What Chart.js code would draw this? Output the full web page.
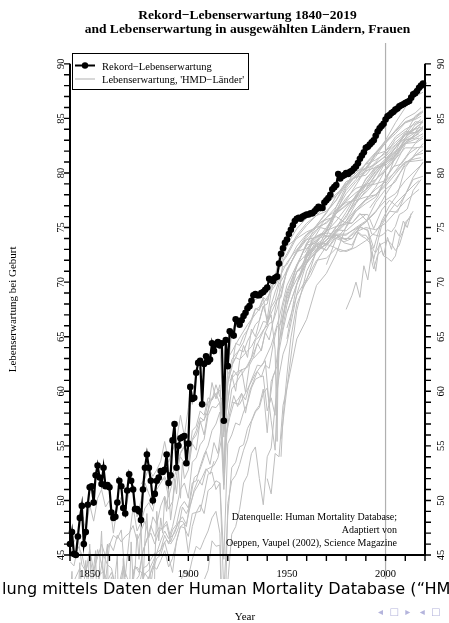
<!DOCTYPE html>
<html>
<head>
<meta charset="utf-8">
<script src="https://cdn.jsdelivr.net/npm/chart.js@4.4.1/dist/chart.umd.min.js"></script>
<style>
  html, body { margin: 0; padding: 0; background: #fff; }
  canvas { display: block; }
</style>
</head>
<body>
<canvas id="lifeChart" width="449" height="623"></canvas>
<script>
// Rekord-Lebenserwartung (Frauen), ein Wert pro Jahr
const recordYears = [
  1840, 1841, 1842, 1843, 1844, 1845, 1846, 1847, 1848, 1849,
  1850, 1851, 1852, 1853, 1854, 1855, 1856, 1857, 1858, 1859,
  1860, 1861, 1862, 1863, 1864, 1865, 1866, 1867, 1868, 1869,
  1870, 1871, 1872, 1873, 1874, 1875, 1876, 1877, 1878, 1879,
  1880, 1881, 1882, 1883, 1884, 1885, 1886, 1887, 1888, 1889,
  1890, 1891, 1892, 1893, 1894, 1895, 1896, 1897, 1898, 1899,
  1900, 1901, 1902, 1903, 1904, 1905, 1906, 1907, 1908, 1909,
  1910, 1911, 1912, 1913, 1914, 1915, 1916, 1917, 1918, 1919,
  1920, 1921, 1922, 1923, 1924, 1925, 1926, 1927, 1928, 1929,
  1930, 1931, 1932, 1933, 1934, 1935, 1936, 1937, 1938, 1939,
  1940, 1941, 1942, 1943, 1944, 1945, 1946, 1947, 1948, 1949,
  1950, 1951, 1952, 1953, 1954, 1955, 1956, 1957, 1958, 1959,
  1960, 1961, 1962, 1963, 1964, 1965, 1966, 1967, 1968, 1969,
  1970, 1971, 1972, 1973, 1974, 1975, 1976, 1977, 1978, 1979,
  1980, 1981, 1982, 1983, 1984, 1985, 1986, 1987, 1988, 1989,
  1990, 1991, 1992, 1993, 1994, 1995, 1996, 1997, 1998, 1999,
  2000, 2001, 2002, 2003, 2004, 2005, 2006, 2007, 2008, 2009,
  2010, 2011, 2012, 2013, 2014, 2015, 2016, 2017, 2018, 2019
];
const recordValues = [
  46.0, 47.1, 45.1, 45.0, 46.7, 48.4, 49.5, 46.0, 47.1, 49.6,
  51.2, 51.3, 49.8, 52.3, 53.2, 52.1, 51.5, 53.0, 51.3, 51.4,
  51.2, 48.9, 48.4, 48.5, 49.8, 51.8, 51.3, 49.3, 48.8, 50.9,
  52.4, 51.8, 51.0, 49.2, 49.2, 49.0, 48.2, 51.0, 53.0, 54.2,
  53.0, 51.8, 50.0, 50.6, 51.8, 52.1, 52.7, 52.6, 52.8, 54.2,
  51.6, 52.3, 55.5, 57.0, 53.0, 55.0, 55.7, 55.8, 55.9, 53.4,
  55.2, 60.4, 59.3, 59.4, 61.7, 62.6, 62.8, 58.8, 62.5, 63.2,
  62.7, 62.9, 64.4, 63.7, 64.3, 64.5, 64.2, 64.4, 57.3, 64.7,
  62.3, 65.5, 65.3, 65.1, 66.6, 66.4, 66.1, 66.5, 66.9, 67.2,
  67.6, 67.8, 68.3, 68.8, 68.9, 68.8, 68.8, 69.0, 69.1, 69.3,
  69.5, 70.3, 70.2, 70.1, 70.4, 70.5, 71.7, 72.6, 73.1, 73.6,
  73.9, 74.4, 74.8, 75.2, 75.6, 75.8, 75.9, 75.8, 76.0, 76.1,
  76.2, 76.2, 76.3, 76.3, 76.5, 76.7, 76.9, 76.8, 76.8, 77.3,
  77.5, 77.7, 78.0, 78.5, 78.7, 78.9, 79.9, 79.5, 79.7, 79.8,
  80.0, 79.9, 80.1, 80.2, 80.4, 80.6, 80.9, 81.3, 81.6, 81.9,
  82.3, 82.4, 82.6, 82.8, 83.0, 83.4, 83.8, 84.1, 84.3, 84.5,
  84.9, 85.2, 85.3, 85.5, 85.6, 85.8, 85.9, 86.1, 86.2, 86.3,
  86.4, 86.5, 86.6, 86.9, 87.2, 87.3, 87.5, 87.8, 88.0, 88.2
];

// HMD-Laender, [Jahr, Lebenserwartung]
const sweden = [[1840,45.0],[1842,46.2],[1844,46.8],[1846,44.1],[1848,43.5],[1850,44.8],[1852,43.0],[1854,45.5],[1856,44.2],[1858,42.6],[1860,45.9],[1862,46.8],[1864,46.5],[1866,47.3],[1868,43.0],[1870,46.5],[1872,49.4],[1874,47.2],[1876,48.0],[1878,49.3],[1880,49.8],[1882,49.0],[1884,51.0],[1886,51.6],[1888,52.2],[1890,51.3],[1892,52.5],[1894,53.2],[1896,54.4],[1898,55.0],[1900,53.5],[1902,55.6],[1904,56.4],[1906,57.6],[1908,57.3],[1910,59.0],[1912,59.2],[1914,59.8],[1916,60.1],[1918,55.8],[1920,60.8],[1922,62.9],[1924,63.4],[1926,63.8],[1928,63.6],[1930,64.6],[1932,65.3],[1934,66.1],[1936,66.5],[1938,67.8],[1940,68.0],[1942,69.6],[1944,70.4],[1946,71.2],[1948,71.9],[1950,72.4],[1955,74.1],[1960,75.2],[1965,76.1],[1970,77.1],[1975,78.1],[1980,78.8],[1985,79.7],[1990,80.4],[1995,81.7],[2000,82.0],[2005,82.8],[2010,83.6],[2015,84.1],[2019,84.7]];
const norway = [[1846,49.0],[1848,47.2],[1850,49.6],[1852,48.1],[1854,50.2],[1856,51.0],[1858,49.4],[1860,50.0],[1862,47.0],[1864,49.5],[1866,50.3],[1868,49.0],[1870,50.8],[1872,51.4],[1874,48.5],[1876,50.0],[1878,51.6],[1880,50.6],[1882,49.8],[1884,51.4],[1886,51.9],[1888,52.0],[1890,50.3],[1892,51.7],[1894,52.8],[1896,54.0],[1898,53.4],[1900,53.2],[1902,55.5],[1904,56.0],[1906,57.1],[1908,57.4],[1910,58.2],[1912,59.4],[1914,59.8],[1916,58.9],[1918,56.9],[1920,60.7],[1922,62.3],[1924,63.1],[1926,63.9],[1928,64.5],[1930,65.6],[1932,66.4],[1934,67.5],[1936,67.7],[1938,68.6],[1940,68.3],[1942,69.6],[1944,69.9],[1946,72.0],[1948,72.6],[1950,73.4],[1955,74.9],[1960,75.9],[1965,76.6],[1970,77.3],[1975,77.9],[1980,79.2],[1985,79.6],[1990,79.8],[1995,80.9],[2000,81.5],[2005,82.5],[2010,83.2],[2015,84.1],[2019,84.7]];
const france = [[1840,40.6],[1842,41.2],[1844,42.3],[1846,40.8],[1848,39.5],[1850,42.0],[1852,41.0],[1854,36.8],[1856,40.5],[1858,41.0],[1860,42.8],[1862,42.0],[1864,41.8],[1866,42.0],[1868,41.3],[1870,34.5],[1871,34.0],[1872,43.6],[1874,43.9],[1876,43.4],[1878,43.3],[1880,42.8],[1882,44.0],[1884,43.7],[1886,44.5],[1888,45.4],[1890,43.9],[1892,44.7],[1894,46.2],[1896,47.6],[1898,47.5],[1900,46.7],[1902,48.8],[1904,48.9],[1906,49.0],[1908,50.6],[1910,52.4],[1912,52.6],[1914,51.0],[1916,51.6],[1918,44.6],[1920,55.2],[1922,56.0],[1924,57.1],[1926,56.9],[1928,58.1],[1930,58.9],[1932,60.3],[1934,61.1],[1936,61.3],[1938,61.4],[1940,58.2],[1942,59.4],[1944,57.8],[1946,65.5],[1948,67.8],[1950,69.2],[1955,71.4],[1960,73.6],[1965,74.7],[1970,75.9],[1975,76.9],[1980,78.4],[1985,79.4],[1990,80.9],[1995,81.9],[2000,82.9],[2005,83.8],[2010,84.7],[2015,85.0],[2019,85.6]];
const denmark = [[1840,44.4],[1842,44.0],[1844,45.8],[1846,45.1],[1848,43.4],[1850,45.5],[1852,43.6],[1854,44.8],[1856,46.0],[1858,44.9],[1860,46.1],[1862,45.4],[1864,46.8],[1866,46.2],[1868,46.7],[1870,47.0],[1872,47.7],[1874,46.3],[1876,47.2],[1878,48.1],[1880,46.6],[1882,48.5],[1884,47.8],[1886,49.5],[1888,50.4],[1890,49.2],[1892,49.9],[1894,52.3],[1896,54.3],[1898,54.9],[1900,53.4],[1902,56.4],[1904,56.8],[1906,58.2],[1908,57.8],[1910,59.4],[1912,59.2],[1914,60.6],[1916,59.5],[1918,59.1],[1920,61.5],[1922,62.4],[1924,63.1],[1926,62.9],[1928,63.3],[1930,63.7],[1932,64.1],[1934,64.8],[1936,65.5],[1938,66.4],[1940,66.3],[1942,67.9],[1944,69.1],[1946,70.1],[1948,71.4],[1950,71.6],[1955,73.3],[1960,74.4],[1965,75.1],[1970,75.9],[1975,76.6],[1980,77.3],[1985,77.5],[1990,77.8],[1995,78.0],[2000,79.0],[2005,80.2],[2010,81.4],[2015,82.7],[2019,83.2]];
const england = [[1841,42.2],[1843,43.0],[1845,43.8],[1847,40.5],[1849,40.2],[1851,42.8],[1853,42.0],[1855,43.2],[1857,43.5],[1859,42.6],[1861,43.4],[1863,42.3],[1865,42.4],[1867,44.0],[1869,42.9],[1871,42.3],[1873,44.0],[1875,43.4],[1877,45.4],[1879,46.4],[1881,47.7],[1883,46.7],[1885,47.5],[1887,47.4],[1889,47.8],[1891,46.2],[1893,47.2],[1895,48.0],[1897,48.1],[1899,47.6],[1901,50.1],[1903,52.1],[1905,52.4],[1907,53.4],[1909,54.5],[1911,53.3],[1913,55.3],[1915,54.3],[1917,57.2],[1918,52.5],[1919,57.6],[1921,60.5],[1923,61.9],[1925,61.4],[1927,62.0],[1929,59.9],[1931,62.4],[1933,63.1],[1935,64.4],[1937,63.7],[1939,65.4],[1941,64.7],[1943,66.4],[1945,68.4],[1947,68.6],[1950,71.2],[1955,72.7],[1960,73.9],[1965,74.8],[1970,75.5],[1975,76.3],[1980,77.0],[1985,77.8],[1990,78.9],[1995,79.4],[2000,80.4],[2005,81.6],[2010,82.7],[2015,82.8],[2019,83.4]];
const netherlands = [[1850,39.6],[1852,38.9],[1854,38.0],[1856,39.4],[1858,37.0],[1860,40.5],[1862,40.1],[1864,38.8],[1866,37.4],[1868,39.8],[1870,38.7],[1872,37.5],[1874,39.8],[1876,41.0],[1878,42.4],[1880,43.0],[1882,43.9],[1884,45.2],[1886,46.3],[1888,47.2],[1890,46.5],[1892,47.6],[1894,49.3],[1896,51.0],[1898,51.6],[1900,50.2],[1902,53.5],[1904,53.9],[1906,55.1],[1908,55.6],[1910,57.8],[1912,58.6],[1914,58.5],[1916,59.0],[1918,52.9],[1920,60.9],[1922,62.1],[1924,64.4],[1926,64.2],[1928,65.1],[1930,65.6],[1932,66.6],[1934,67.6],[1936,67.4],[1938,68.6],[1940,66.2],[1942,67.0],[1944,63.8],[1945,55.4],[1946,68.7],[1948,72.0],[1950,72.6],[1955,74.3],[1960,75.4],[1965,76.1],[1970,76.5],[1975,77.5],[1980,79.2],[1985,79.6],[1990,80.2],[1995,80.5],[2000,80.7],[2005,81.6],[2010,83.0],[2015,83.2],[2019,83.6]];
const belgium = [[1841,40.9],[1843,41.3],[1845,40.5],[1847,36.4],[1849,37.0],[1851,41.4],[1853,40.0],[1855,40.8],[1857,39.9],[1859,40.3],[1861,43.0],[1863,42.1],[1865,41.5],[1867,42.8],[1869,41.6],[1871,39.0],[1873,42.7],[1875,42.2],[1877,43.8],[1879,44.0],[1881,44.6],[1883,45.2],[1885,45.0],[1887,45.9],[1889,46.4],[1891,46.0],[1893,46.6],[1895,47.5],[1897,49.4],[1899,48.8],[1901,49.6],[1903,50.8],[1905,51.4],[1907,52.1],[1909,52.9],[1911,52.4],[1913,53.6],[1916,null],[1919,55.8],[1921,57.6],[1923,58.9],[1925,59.2],[1927,59.8],[1929,59.2],[1931,60.6],[1933,61.5],[1935,62.4],[1937,62.3],[1939,62.8],[1941,58.7],[1943,61.4],[1945,62.3],[1947,65.6],[1950,68.9],[1955,71.5],[1960,73.5],[1965,74.2],[1970,74.6],[1975,75.6],[1980,76.8],[1985,77.9],[1990,79.4],[1995,80.6],[2000,81.0],[2005,81.9],[2010,83.0],[2015,83.4],[2019,84.3]];
const finland = [[1878,41.8],[1880,41.0],[1882,43.6],[1884,44.7],[1886,45.0],[1888,46.2],[1890,44.8],[1892,43.4],[1894,46.3],[1896,47.6],[1898,47.9],[1900,45.2],[1902,47.6],[1904,48.9],[1906,49.6],[1908,48.8],[1910,50.9],[1912,51.2],[1914,51.8],[1916,51.6],[1918,41.5],[1920,48.6],[1922,53.0],[1924,53.5],[1926,54.9],[1928,55.1],[1930,56.6],[1932,57.3],[1934,58.2],[1936,58.7],[1938,60.2],[1940,56.2],[1942,60.9],[1944,61.8],[1946,64.5],[1948,66.6],[1950,68.5],[1955,70.3],[1960,71.7],[1965,72.9],[1970,74.2],[1975,76.4],[1980,77.7],[1985,78.6],[1990,78.9],[1995,80.2],[2000,81.0],[2005,82.3],[2010,83.2],[2015,84.4],[2019,84.8]];
const iceland = [[1840,41.0],[1841,43.5],[1842,39.2],[1843,35.0],[1844,40.8],[1845,44.3],[1846,31.0],[1847,42.0],[1848,44.5],[1849,41.6],[1850,46.0],[1851,41.2],[1852,43.8],[1853,45.4],[1854,36.5],[1855,44.0],[1856,47.2],[1857,42.3],[1858,44.8],[1859,46.0],[1860,32.5],[1861,41.5],[1862,38.0],[1863,43.2],[1864,45.0],[1865,36.8],[1866,35.6],[1867,44.7],[1868,41.0],[1869,37.4],[1870,40.8],[1871,46.2],[1872,42.5],[1873,43.8],[1874,46.9],[1875,44.6],[1876,47.8],[1877,42.1],[1878,46.5],[1879,48.8],[1880,45.0],[1881,42.0],[1882,30.0],[1883,44.2],[1884,49.0],[1885,46.3],[1886,48.4],[1887,47.0],[1888,50.3],[1889,49.0],[1890,51.2],[1891,48.2],[1892,49.7],[1893,52.0],[1894,50.6],[1895,52.7],[1896,50.2],[1897,53.5],[1898,52.0],[1900,52.8],[1902,55.2],[1904,54.6],[1906,57.3],[1908,56.0],[1910,58.2],[1912,60.8],[1914,59.3],[1916,60.6],[1918,56.3],[1920,59.1],[1922,61.5],[1924,60.0],[1926,62.8],[1928,64.2],[1930,63.1],[1932,65.7],[1934,65.0],[1936,66.4],[1938,67.8],[1940,66.6],[1942,69.1],[1944,70.5],[1946,72.3],[1948,73.6],[1950,74.2],[1955,76.0],[1960,76.2],[1965,76.9],[1970,77.3],[1975,79.0],[1980,79.8],[1985,80.2],[1990,80.4],[1995,80.8],[2000,81.6],[2005,83.1],[2010,83.8],[2015,83.7],[2018,84.5]];
const switzerland = [[1876,42.2],[1878,43.3],[1880,43.6],[1882,44.4],[1884,45.2],[1886,45.5],[1888,46.8],[1890,46.0],[1892,47.3],[1894,47.8],[1896,49.4],[1898,49.9],[1900,49.3],[1902,51.6],[1904,51.8],[1906,53.1],[1908,54.2],[1910,55.0],[1912,56.4],[1914,57.0],[1916,58.1],[1918,51.0],[1920,57.6],[1922,60.2],[1924,60.7],[1926,61.3],[1928,61.8],[1930,62.4],[1932,63.1],[1934,64.7],[1936,65.0],[1938,65.6],[1940,66.0],[1942,67.7],[1944,68.3],[1946,69.8],[1948,70.4],[1950,71.1],[1955,72.8],[1960,74.1],[1965,75.2],[1970,76.3],[1975,77.9],[1980,79.0],[1985,80.0],[1990,80.8],[1995,81.8],[2000,82.7],[2005,83.9],[2010,84.6],[2015,85.1],[2019,85.7]];
const italy = [[1872,35.5],[1874,34.0],[1876,37.2],[1878,36.9],[1880,36.0],[1882,37.8],[1884,38.8],[1886,36.5],[1888,37.8],[1890,39.0],[1892,40.5],[1894,41.7],[1896,42.5],[1898,43.6],[1900,43.0],[1902,44.6],[1904,45.8],[1906,45.5],[1908,46.4],[1910,47.2],[1912,48.4],[1914,49.0],[1916,47.0],[1918,34.0],[1920,49.7],[1922,51.8],[1924,52.3],[1926,53.3],[1928,54.6],[1930,55.6],[1932,57.2],[1934,58.1],[1936,58.5],[1938,59.8],[1940,60.3],[1942,57.3],[1944,54.6],[1946,63.7],[1948,65.6],[1950,67.2],[1955,69.8],[1960,72.3],[1965,73.8],[1970,75.0],[1975,76.3],[1980,77.5],[1985,78.9],[1990,80.3],[1995,81.5],[2000,82.8],[2005,83.6],[2010,84.6],[2015,84.9],[2018,85.2]];
const spain = [[1908,42.7],[1910,43.6],[1912,46.3],[1914,45.8],[1916,45.9],[1918,31.5],[1920,42.5],[1922,46.9],[1924,47.6],[1926,49.2],[1928,51.6],[1930,52.3],[1932,54.3],[1934,54.9],[1936,52.0],[1938,49.6],[1940,54.0],[1942,54.8],[1944,58.6],[1946,61.4],[1948,63.4],[1950,64.4],[1955,68.9],[1960,71.8],[1965,73.6],[1970,74.8],[1975,76.3],[1980,78.6],[1985,79.8],[1990,80.5],[1995,81.7],[2000,82.9],[2005,83.9],[2010,85.0],[2015,85.5],[2018,86.0]];
const japan = [[1947,54.0],[1948,57.5],[1950,61.5],[1952,64.9],[1955,68.0],[1960,70.2],[1965,72.9],[1970,74.7],[1975,76.9],[1980,78.8],[1985,80.5],[1990,81.9],[1995,82.8],[2000,84.6],[2005,85.5],[2010,86.3],[2015,87.0],[2019,87.4]];
const usa = [[1933,63.0],[1935,63.4],[1937,63.8],[1939,65.4],[1941,66.2],[1943,66.4],[1945,67.5],[1947,68.9],[1950,71.1],[1955,72.8],[1960,73.1],[1965,73.7],[1970,74.7],[1975,76.6],[1980,77.4],[1985,78.2],[1990,78.8],[1995,79.0],[2000,79.3],[2005,80.1],[2010,81.0],[2015,81.3],[2018,81.4]];
const australia = [[1921,63.3],[1925,64.6],[1930,66.1],[1935,67.3],[1940,68.6],[1945,70.0],[1950,71.8],[1955,73.0],[1960,73.9],[1965,74.1],[1970,74.6],[1975,76.6],[1980,78.1],[1985,79.2],[1990,80.1],[1995,81.0],[2000,82.0],[2005,83.3],[2010,84.0],[2015,84.5],[2018,84.9]];
const newZealand = [[1876,51.5],[1878,52.0],[1880,53.0],[1882,52.2],[1884,52.8],[1886,53.6],[1888,55.4],[1890,53.5],[1892,54.6],[1894,55.4],[1896,57.8],[1898,55.9],[1900,58.5],[1901,60.3],[1902,58.8],[1904,61.5],[1906,62.2],[1907,58.6],[1908,62.3],[1910,62.6],[1912,64.2],[1914,64.0],[1916,64.2],[1918,57.2],[1920,62.1],[1922,65.3],[1924,66.4],[1926,66.0],[1928,66.8],[1930,67.6],[1932,68.2],[1934,68.4],[1936,68.6],[1938,68.9],[1940,69.3],[1942,69.9],[1944,70.3],[1946,71.3],[1948,72.3],[1950,73.3],[1955,74.0],[1960,74.6],[1965,75.0],[1970,75.4],[1975,76.3],[1980,77.1],[1985,77.7],[1990,78.5],[1995,79.9],[2000,81.1],[2005,82.0],[2008,82.4]];
const canada = [[1921,61.0],[1925,61.8],[1930,62.2],[1935,64.3],[1940,66.3],[1945,68.4],[1950,70.9],[1955,72.9],[1960,74.3],[1965,75.2],[1970,76.4],[1975,77.5],[1980,78.9],[1985,79.8],[1990,80.8],[1995,81.2],[2000,81.8],[2005,82.6],[2010,83.5],[2015,84.0],[2018,84.2]];
const portugal = [[1940,52.0],[1942,50.6],[1944,54.3],[1946,54.0],[1948,58.7],[1950,60.3],[1955,64.8],[1960,66.6],[1965,69.7],[1970,70.8],[1975,72.6],[1980,75.1],[1985,76.7],[1990,77.5],[1995,78.7],[2000,80.3],[2005,81.3],[2010,82.8],[2015,83.4],[2019,84.0]];
const bulgaria = [[1947,55.6],[1950,60.3],[1955,67.4],[1960,71.0],[1965,72.8],[1970,73.9],[1975,74.3],[1980,73.9],[1985,74.6],[1990,75.0],[1995,74.8],[2000,75.4],[2005,76.4],[2010,77.4],[2015,78.2],[2017,78.5]];
const hungary = [[1950,65.8],[1955,68.8],[1960,70.3],[1965,72.0],[1970,72.2],[1975,73.1],[1980,72.8],[1985,73.2],[1990,73.8],[1995,74.6],[2000,76.0],[2005,77.2],[2010,78.1],[2015,79.0],[2017,79.3]];
const russia = [[1959,71.4],[1962,72.6],[1965,73.3],[1968,73.6],[1971,73.4],[1974,73.2],[1977,72.8],[1980,72.9],[1983,73.1],[1986,74.6],[1988,74.3],[1990,74.3],[1992,73.8],[1993,71.9],[1994,71.2],[1996,72.5],[1998,72.9],[1999,72.4],[2001,72.2],[2003,71.9],[2005,72.4],[2007,74.0],[2009,74.7],[2011,75.6],[2012,75.9],[2014,76.5]];
const ukraine = [[1959,72.2],[1963,73.6],[1967,74.1],[1971,74.2],[1975,74.3],[1979,73.6],[1983,73.4],[1986,74.5],[1988,74.2],[1990,74.0],[1992,73.6],[1994,72.9],[1995,72.7],[1997,73.4],[1999,73.6],[2001,73.8],[2003,73.5],[2005,72.9],[2007,73.4],[2009,74.6],[2010,75.5],[2013,76.0]];
const belarus = [[1959,73.0],[1963,74.6],[1967,75.5],[1971,75.8],[1975,76.0],[1979,75.5],[1983,75.4],[1987,76.3],[1991,75.5],[1993,74.4],[1995,74.3],[1997,74.2],[1999,74.4],[2001,74.8],[2003,74.6],[2005,75.1],[2007,76.2],[2009,76.4],[2011,76.7],[2014,78.4],[2018,79.4]];
const czechia = [[1950,68.0],[1955,71.6],[1960,73.4],[1965,73.6],[1970,72.9],[1975,74.1],[1980,73.9],[1985,74.8],[1990,75.5],[1995,77.3],[2000,78.5],[2005,79.2],[2010,80.9],[2015,81.6],[2019,82.1]];
const scotland = [[1855,43.0],[1857,45.0],[1859,44.1],[1861,43.8],[1863,42.2],[1865,41.8],[1867,43.6],[1869,42.0],[1871,41.5],[1873,42.6],[1875,43.1],[1877,45.3],[1879,46.5],[1881,47.0],[1883,46.0],[1885,47.1],[1887,47.5],[1889,48.1],[1891,46.6],[1893,47.0],[1895,48.0],[1897,48.5],[1899,47.8],[1901,49.5],[1903,51.0],[1905,51.9],[1907,51.4],[1909,52.8],[1911,53.0],[1913,53.2],[1915,53.9],[1917,55.8],[1918,51.4],[1919,55.9],[1921,58.0],[1923,59.6],[1925,58.6],[1927,59.8],[1929,58.0],[1931,60.0],[1933,60.9],[1935,61.8],[1937,61.3],[1939,62.4],[1941,62.1],[1943,64.3],[1945,65.9],[1947,66.2],[1950,68.7],[1955,70.9],[1960,71.9],[1965,72.7],[1970,73.6],[1975,74.5],[1980,75.4],[1985,76.5],[1990,77.5],[1995,78.0],[2000,78.8],[2005,79.9],[2010,81.0],[2015,81.1],[2019,81.2]];
const austria = [[1947,65.0],[1950,67.9],[1955,71.0],[1960,72.0],[1965,73.0],[1970,73.4],[1975,74.7],[1980,76.1],[1985,77.3],[1990,78.9],[1995,80.1],[2000,81.2],[2005,82.3],[2010,83.5],[2015,83.7],[2019,84.2]];
const westGermany = [[1956,71.0],[1960,72.4],[1965,73.4],[1970,73.8],[1975,75.0],[1980,76.4],[1985,78.0],[1990,79.0]];
const eastGermany = [[1956,70.2],[1960,72.2],[1965,73.5],[1970,74.1],[1975,74.8],[1980,74.7],[1985,75.5],[1990,76.2]];
const germany = [[1990,78.5],[1995,79.8],[2000,81.1],[2005,82.0],[2010,82.7],[2015,83.1],[2017,83.2]];
const ireland = [[1950,67.2],[1955,69.8],[1960,71.8],[1965,72.8],[1970,73.5],[1975,74.6],[1980,75.6],[1985,76.7],[1990,77.6],[1995,78.5],[2000,79.2],[2005,81.5],[2010,82.8],[2015,83.4],[2017,83.6]];
const luxembourg = [[1960,72.4],[1965,73.1],[1970,73.8],[1975,75.1],[1980,75.9],[1985,77.8],[1990,79.1],[1995,80.4],[2000,81.3],[2005,82.3],[2010,83.5],[2015,84.7],[2019,84.6]];
const poland = [[1958,69.5],[1962,70.6],[1966,72.2],[1970,73.3],[1975,74.4],[1980,74.4],[1985,74.9],[1990,75.5],[1995,76.4],[2000,78.0],[2005,79.4],[2010,80.7],[2015,81.6],[2019,81.8]];
const slovakia = [[1950,64.8],[1955,69.8],[1960,72.7],[1965,73.3],[1970,72.9],[1975,74.3],[1980,74.3],[1985,75.0],[1990,75.6],[1995,76.5],[2000,77.5],[2005,78.1],[2010,79.3],[2015,80.2],[2019,80.9]];
const lithuania = [[1959,72.7],[1963,73.8],[1967,75.0],[1971,74.8],[1975,75.1],[1979,75.3],[1983,75.4],[1987,76.2],[1991,76.2],[1994,74.9],[1998,76.6],[2002,77.5],[2006,76.9],[2010,78.0],[2014,79.6],[2019,81.0]];
const latvia = [[1959,72.2],[1963,74.0],[1967,74.4],[1971,74.2],[1975,74.0],[1979,73.7],[1983,74.0],[1987,75.1],[1991,74.7],[1994,72.1],[1998,75.2],[2002,76.5],[2006,76.4],[2010,78.0],[2014,79.4],[2019,79.7]];
const estonia = [[1959,71.8],[1963,73.7],[1967,74.4],[1971,74.5],[1975,74.3],[1979,74.0],[1983,74.0],[1987,75.0],[1991,74.8],[1994,73.1],[1998,75.6],[2002,77.0],[2006,78.0],[2010,80.5],[2014,81.5],[2019,82.7]];
const greece = [[1981,76.4],[1985,77.6],[1990,79.5],[1995,80.4],[2000,80.9],[2005,81.6],[2010,83.1],[2015,83.7],[2019,84.1]];
const taiwan = [[1970,71.6],[1975,74.0],[1980,75.0],[1985,76.5],[1990,77.2],[1995,77.8],[2000,79.5],[2005,80.8],[2010,82.6],[2015,83.6],[2019,84.2]];
const korea = [[2003,80.8],[2006,82.3],[2009,83.5],[2012,84.2],[2015,85.2],[2018,85.6]];
const hongKong = [[1986,79.4],[1990,80.3],[1995,81.8],[2000,83.0],[2005,84.6],[2010,86.0],[2015,87.3],[2019,88.1]];
const chile = [[1992,76.8],[1996,77.8],[2000,79.6],[2004,80.6],[2008,80.8],[2012,81.8],[2016,82.3]];
const israel = [[1983,76.9],[1987,77.7],[1991,78.4],[1995,79.3],[1999,80.7],[2003,81.4],[2007,82.3],[2011,83.5],[2016,84.2]];
const northernIreland = [[1922,59.0],[1926,58.8],[1930,60.2],[1934,61.6],[1938,62.6],[1942,64.2],[1946,66.7],[1950,69.7],[1955,71.6],[1960,72.6],[1965,73.5],[1970,73.5],[1975,74.8],[1980,75.6],[1985,77.2],[1990,78.4],[1995,79.4],[2000,80.2],[2005,81.3],[2010,82.3],[2015,82.3],[2019,82.4]];
const lowSeries = [[1980,67.5],[1983,68.8],[1985,70.0],[1987,68.6],[1989,71.5],[1991,70.2],[1993,72.8],[1995,71.0],[1997,73.6],[1999,72.4],[2001,74.1],[2003,73.0],[2005,74.8],[2007,74.2],[2009,75.6],[2011,75.0],[2013,76.3]];

const hmdCountries = [sweden, norway, france, denmark, england, netherlands, belgium, finland,
  iceland, switzerland, italy, spain, japan, usa, australia, newZealand, canada, portugal,
  bulgaria, hungary, russia, ukraine, belarus, czechia, scotland, austria, westGermany,
  eastGermany, germany, ireland, luxembourg, poland, slovakia, lithuania, latvia, estonia,
  greece, taiwan, korea, hongKong, chile, israel, northernIreland, lowSeries];

// Achsen
const xTickYears = [1840, 1850, 1860, 1870, 1880, 1890, 1900, 1910, 1920, 1930,
  1940, 1950, 1960, 1970, 1980, 1990, 2000, 2010, 2020];
const xLabelYears = [1850, 1900, 1950, 2000];
const yTickValues = [45, 46, 47, 48, 49, 50, 51, 52, 53, 54, 55, 56, 57, 58, 59, 60, 61, 62,
  63, 64, 65, 66, 67, 68, 69, 70, 71, 72, 73, 74, 75, 76, 77, 78, 79, 80, 81, 82, 83, 84,
  85, 86, 87, 88, 89, 90];
const yLabelValues = [45, 50, 55, 60, 65, 70, 75, 80, 85, 90];
const markerYear = 2000;

const serif = '"Liberation Serif", "Times New Roman", serif';
const grey = '#bebebe';

const rPlot = {
  id: 'rPlot',
  beforeDatasetsDraw(chart) {
    const { ctx, chartArea, scales: { x } } = chart;
    const px = x.getPixelForValue(markerYear);
    ctx.save();
    ctx.strokeStyle = '#b0b0b0';
    ctx.lineWidth = 1.2;
    ctx.beginPath();
    ctx.moveTo(px, chartArea.top + 1);
    ctx.lineTo(px, chartArea.bottom + 24);
    ctx.stroke();
    ctx.restore();
  },
  afterDatasetsDraw(chart) {
    const { ctx, scales: { x, y } } = chart;
    const yb = y.getPixelForValue(45), yt = y.getPixelForValue(90);
    const xl = x.getPixelForValue(1840), xr = x.getPixelForValue(2020);
    ctx.save();
    ctx.strokeStyle = '#000';
    ctx.fillStyle = '#000';

    // Achsenlinien
    ctx.lineWidth = 2;
    ctx.beginPath();
    ctx.moveTo(xl, yt); ctx.lineTo(xl, yb);
    ctx.moveTo(xr, yt); ctx.lineTo(xr, yb);
    ctx.moveTo(xl - 1, yb); ctx.lineTo(xr + 1, yb);
    ctx.stroke();

    // Striche
    ctx.lineWidth = 1.4;
    ctx.beginPath();
    yTickValues.forEach(v => {
      const py = y.getPixelForValue(v);
      ctx.moveTo(xl, py); ctx.lineTo(xl - 6, py);
      ctx.moveTo(xr, py); ctx.lineTo(xr + 6, py);
    });
    xTickYears.forEach(v => {
      const px = x.getPixelForValue(v);
      ctx.moveTo(px, yb); ctx.lineTo(px, yb + 6);
    });
    ctx.stroke();

    // Beschriftung
    ctx.font = '10.5px ' + serif;
    ctx.textAlign = 'center';
    ctx.textBaseline = 'alphabetic';
    xLabelYears.forEach(v => {
      ctx.fillText(String(v), x.getPixelForValue(v), yb + 22);
    });
    yLabelValues.forEach(v => {
      const py = y.getPixelForValue(v);
      [xl - 6, xr + 19].forEach(bx => {
        ctx.save();
        ctx.translate(bx, py);
        ctx.rotate(-Math.PI / 2);
        ctx.fillText(String(v), 0, 0);
        ctx.restore();
      });
    });

    // Achsentitel
    ctx.font = '11px ' + serif;
    ctx.save();
    ctx.translate(16, (yt + yb) / 2);
    ctx.rotate(-Math.PI / 2);
    ctx.fillText('Lebenserwartung bei Geburt', 0, 0);
    ctx.restore();
    ctx.fillText('Year', 245, 620);

    // Titel
    const cx = (xl + xr) / 2;
    ctx.font = 'bold 13.5px ' + serif;
    ctx.fillText('Rekord\u2212Lebenserwartung 1840\u22122019', cx, 19);
    ctx.fillText('and Lebenserwartung in ausgew\u00e4hlten L\u00e4ndern, Frauen', cx, 33);

    // Quelle
    ctx.font = '10px ' + serif;
    ctx.textAlign = 'right';
    ctx.fillText('Datenquelle: Human Mortality Database;', 397, 520);
    ctx.fillText('Adaptiert von', 397, 533);
    ctx.fillText('Oeppen, Vaupel (2002), Science Magazine', 397, 546);

    // Legende
    ctx.fillStyle = '#fff';
    ctx.fillRect(72, 53, 177, 37);
    ctx.lineWidth = 1;
    ctx.strokeStyle = '#000';
    ctx.strokeRect(72.5, 53.5, 176, 36);
    ctx.lineWidth = 2;
    ctx.beginPath(); ctx.moveTo(75, 65.5); ctx.lineTo(95, 65.5); ctx.stroke();
    ctx.fillStyle = '#000';
    ctx.beginPath(); ctx.arc(85, 65.5, 3.2, 0, Math.PI * 2); ctx.fill();
    ctx.strokeStyle = grey;
    ctx.lineWidth = 1.2;
    ctx.beginPath(); ctx.moveTo(75, 79); ctx.lineTo(95, 79); ctx.stroke();
    ctx.font = '10.5px ' + serif;
    ctx.textAlign = 'left';
    ctx.fillText('Rekord\u2212Lebenserwartung', 102, 69.5);
    ctx.fillText('Lebenserwartung, \'HMD\u2212L\u00e4nder\'', 102, 82.5);

    // Fusszeile der Folie
    const foot = 'lung mittels Daten der Human Mortality Database (\u201cHMD\u201d)';
    ctx.font = '15px "DejaVu Sans", sans-serif';
    const part = ctx.measureText('lung mittels Daten der Human Mortality Database (\u201cHM').width;
    const size = 15 * 449 / part;
    ctx.font = size.toFixed(2) + 'px "DejaVu Sans", sans-serif';
    ctx.fillText(foot, 2, 594);

    ctx.fillStyle = '#b4b4dc';
    ctx.font = '10px "DejaVu Sans", sans-serif';
    ctx.fillText('\u25c2  \u25a1  \u25b8   \u25c2  \u25a1', 378, 615);
    ctx.restore();
  }
};

const datasets = [{
  label: 'Rekord\u2212Lebenserwartung',
  data: recordYears.map((yr, i) => ({ x: yr, y: recordValues[i] })),
  borderColor: '#000',
  backgroundColor: '#000',
  borderWidth: 2.2,
  pointRadius: 3.3,
  pointBorderWidth: 0,
  clip: { left: 5, top: 5, right: 5, bottom: 5 }
}];
hmdCountries.forEach(c => {
  datasets.push({
    label: 'HMD',
    data: c,
    borderColor: grey,
    borderWidth: 1,
    pointRadius: 0,
    spanGaps: false,
    clip: { left: 0, top: 0, right: 0, bottom: 24 }
  });
});

new Chart(document.getElementById('lifeChart'), {
  type: 'line',
  data: { datasets: datasets },
  options: {
    responsive: false,
    animation: false,
    layout: { padding: { left: 70, right: 24, top: 42, bottom: 68 } },
    scales: {
      x: { type: 'linear', min: 1840, max: 2020, display: false },
      y: { type: 'linear', min: 45, max: 92, display: false }
    },
    plugins: {
      legend: { display: false },
      tooltip: { enabled: false }
    }
  },
  plugins: [rPlot]
});
</script>
</body>
</html>
